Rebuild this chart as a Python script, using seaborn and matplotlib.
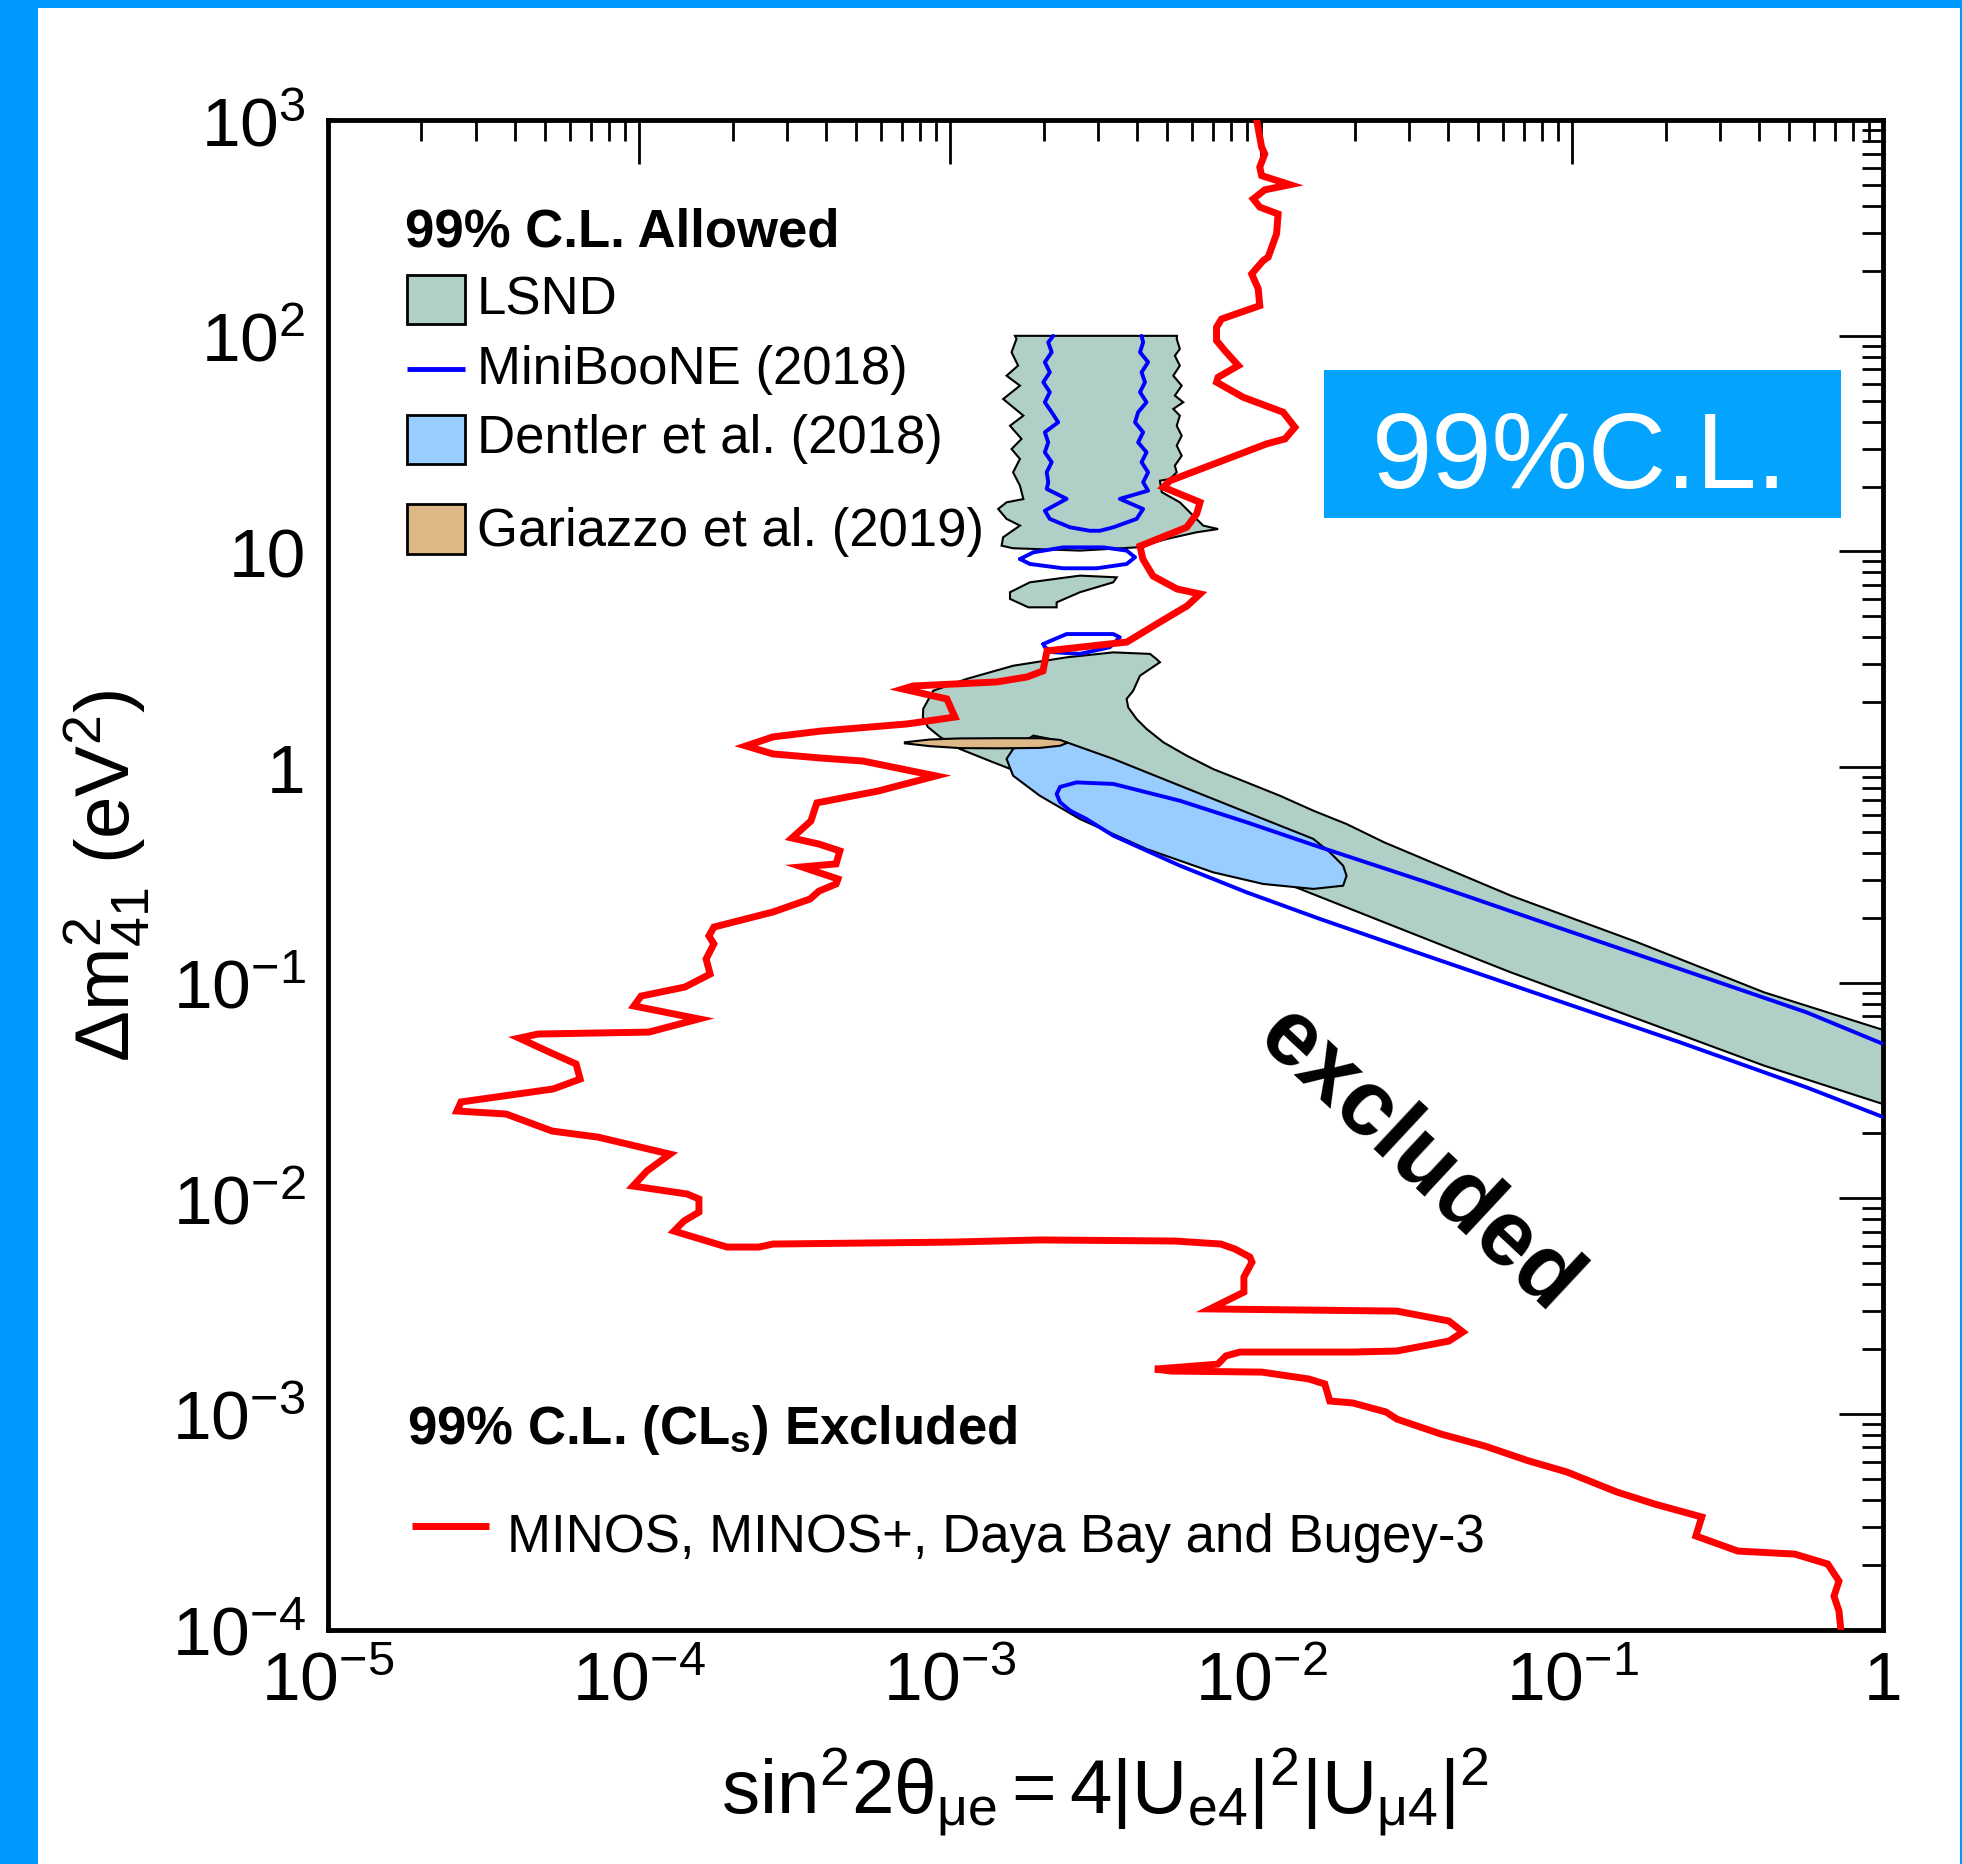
import numpy as np
import matplotlib
matplotlib.use("Agg")
import matplotlib.pyplot as plt
import seaborn as sns
from matplotlib.patches import Rectangle
from matplotlib.ticker import FixedLocator, FixedFormatter, LogLocator, NullFormatter

# ---------------------------------------------------------------------------
# Contours, stored as log10(sin^2 2theta_mue) and log10(dm^2_41 / eV^2)
# ---------------------------------------------------------------------------

# MINOS, MINOS+, Daya Bay and Bugey-3 : 99% C.L. (CLs) exclusion
minos_log_s2t = [-2.014, -1.998, -1.988, -2.004, -1.998, -1.907, -1.988, -2.025, -2.004, -1.945,
                 -1.950, -1.977, -1.993, -2.030, -2.009, -2.004, -2.127, -2.143, -2.143, -2.116,
                 -2.073, -2.138, -2.143, -2.057, -1.929, -1.891, -1.923, -1.982, -2.293, -2.314,
                 -2.196, -2.207, -2.239, -2.389, -2.380, -2.347, -2.270, -2.196, -2.238, -2.335,
                 -2.399, -2.431, -2.688, -2.701, -2.752, -2.849, -3.119, -3.151, -3.010, -2.984,
                 -3.138, -3.415, -3.569, -3.656, -3.569, -3.415, -3.280, -3.045, -3.231, -3.428,
                 -3.447, -3.508, -3.421, -3.354, -3.366, -3.476, -3.360, -3.366, -3.421, -3.450,
                 -3.569, -3.759, -3.775, -3.759, -3.784, -3.771, -3.852, -3.993, -4.016, -3.807,
                 -3.968, -4.324, -4.385, -4.289, -4.202, -4.189, -4.276, -4.572, -4.585, -4.427,
                 -4.279, -4.132, -3.900, -3.974, -4.019, -3.845, -3.807, -3.807, -3.855, -3.887,
                 -3.717, -3.614, -3.569, -2.997, -2.711, -2.277, -2.129, -2.084, -2.036, -2.029,
                 -2.055, -2.055, -2.164, -1.563, -1.396, -1.351, -1.396, -1.563, -1.705, -2.068,
                 -2.113, -2.139, -2.341, -2.290, -1.997, -1.846, -1.795, -1.779, -1.705, -1.598,
                 -1.563, -1.422, -1.280, -1.139, -1.017, -0.856, -0.734, -0.583, -0.602, -0.467,
                 -0.284, -0.178, -0.142, -0.158, -0.142, -0.136]
minos_log_dm2 = [3.0, 2.875, 2.844, 2.782, 2.743, 2.701, 2.677, 2.635, 2.597, 2.565,
                 2.473, 2.365, 2.349, 2.287, 2.218, 2.140, 2.078, 2.040, 1.978, 1.931,
                 1.862, 1.808, 1.785, 1.715, 1.646, 1.576, 1.522, 1.499, 1.328, 1.298,
                 1.228, 1.174, 1.112, 1.025, 0.965, 0.886, 0.826, 0.803, 0.747, 0.664,
                 0.608, 0.580, 0.539, 0.446, 0.418, 0.395, 0.376, 0.362, 0.316, 0.232,
                 0.200, 0.167, 0.140, 0.098, 0.061, 0.042, 0.028, -0.041, -0.111, -0.166,
                 -0.250, -0.329, -0.357, -0.389, -0.449, -0.463, -0.519, -0.542, -0.575, -0.612,
                 -0.672, -0.742, -0.783, -0.820, -0.890, -0.960, -1.020, -1.062, -1.108, -1.168,
                 -1.229, -1.238, -1.257, -1.321, -1.377, -1.447, -1.493, -1.553, -1.595, -1.609,
                 -1.688, -1.716, -1.795, -1.873, -1.943, -1.980, -2.003, -2.064, -2.105, -2.152,
                 -2.226, -2.226, -2.212, -2.203, -2.193, -2.198, -2.212, -2.235, -2.272, -2.296,
                 -2.365, -2.435, -2.513, -2.523, -2.569, -2.620, -2.662, -2.708, -2.713, -2.713,
                 -2.731, -2.769, -2.792, -2.801, -2.806, -2.838, -2.861, -2.940, -2.949, -2.991,
                 -3.024, -3.093, -3.149, -3.218, -3.269, -3.362, -3.418, -3.478, -3.566, -3.636,
                 -3.650, -3.696, -3.775, -3.845, -3.914, -4.0]

# LSND allowed region: high-dm2 island
lsnd_high_log_s2t = [-2.791, -2.270, -2.271, -2.261, -2.277, -2.261, -2.282, -2.255, -2.277, -2.250,
                     -2.282, -2.261, -2.271, -2.255, -2.271, -2.255, -2.277, -2.271, -2.293, -2.325,
                     -2.319, -2.261, -2.218, -2.186, -2.138, -2.207, -2.303, -2.400, -2.582, -2.798,
                     -2.834, -2.829, -2.775, -2.818, -2.845, -2.818, -2.764, -2.775, -2.797, -2.775,
                     -2.802, -2.770, -2.807, -2.764, -2.829, -2.775, -2.818, -2.781, -2.802, -2.786]
lsnd_high_log_dm2 = [2.0, 2.0, 1.986, 1.939, 1.908, 1.862, 1.815, 1.769, 1.723, 1.692,
                     1.661, 1.630, 1.583, 1.537, 1.491, 1.444, 1.398, 1.367, 1.336, 1.328,
                     1.275, 1.228, 1.166, 1.120, 1.104, 1.089, 1.058, 1.019, 1.004, 1.015,
                     1.027, 1.066, 1.120, 1.151, 1.197, 1.228, 1.243, 1.305, 1.367, 1.429,
                     1.475, 1.522, 1.583, 1.630, 1.707, 1.769, 1.815, 1.862, 1.924, 1.986]

# LSND allowed region: small island near 6-7 eV^2
lsnd_mid_log_s2t = [-2.807, -2.743, -2.582, -2.464, -2.475, -2.582, -2.657, -2.657, -2.748, -2.807]
lsnd_mid_log_dm2 = [0.811, 0.857, 0.888, 0.880, 0.857, 0.811, 0.764, 0.741, 0.741, 0.780]

# LSND allowed region: main diagonal band
lsnd_band_log_s2t = [-3.086, -3.054, -2.946, -2.797, -2.625, -2.475, -2.357, -2.336, -2.325, -2.389,
                     -2.411, -2.432, -2.427, -2.400, -2.368, -2.314, -2.239, -2.154, -2.046, -1.939,
                     -1.832, -1.725, -1.604, -1.197, -0.789, -0.382, 0.0,
                     0.0, -0.382, -0.789, -1.197, -1.604, -1.875, -1.994, -2.155, -2.367, -2.582,
                     -2.711, -2.798, -2.871, -2.968, -3.032, -3.071, -3.087]
lsnd_band_log_dm2 = [0.270, 0.354, 0.409, 0.470, 0.509, 0.532, 0.525, 0.501, 0.486, 0.424,
                     0.354, 0.316, 0.277, 0.223, 0.177, 0.115, 0.053, -0.009, -0.071, -0.133,
                     -0.202, -0.264, -0.349, -0.596, -0.813, -1.045, -1.219,
                     -1.563, -1.385, -1.168, -0.952, -0.720, -0.565, -0.496, -0.403, -0.278, -0.148,
                     -0.064, -0.013, 0.028, 0.084, 0.140, 0.186, 0.232]

# Dentler et al. (2018) global-fit region
dentler_log_s2t = [-2.818, -2.797, -2.732, -2.625, -2.475, -2.261, -2.046, -1.832, -1.779, -1.736,
                   -1.725, -1.736, -1.832, -1.993, -2.154, -2.368, -2.582, -2.711, -2.797]
dentler_log_dm2 = [0.038, 0.084, 0.146, 0.115, 0.038, -0.086, -0.210, -0.333, -0.395, -0.457,
                   -0.504, -0.550, -0.565, -0.542, -0.488, -0.380, -0.241, -0.133, -0.040]

# Gariazzo et al. (2019) global-fit region
gariazzo_log_s2t = [-3.145, -3.064, -2.968, -2.839, -2.711, -2.646, -2.622, -2.646, -2.711, -2.839,
                    -2.968, -3.064, -3.145]
gariazzo_log_dm2 = [0.115, 0.128, 0.133, 0.134, 0.134, 0.126, 0.113, 0.099, 0.089, 0.087,
                    0.088, 0.097, 0.110]

# MiniBooNE (2018) contours
mb_band_log_s2t = [0.0, -0.247, -0.654, -1.061, -1.468, -1.832, -2.046, -2.261, -2.475, -2.593,
                   -2.646, -2.657, -2.646, -2.614, -2.561, -2.475, -2.261, -2.046, -1.811, -1.468,
                   -1.061, -0.654, -0.247, 0.0]
mb_band_log_dm2 = [-1.284, -1.137, -0.936, -0.736, -0.534, -0.361, -0.256, -0.156, -0.078, -0.071,
                   -0.092, -0.125, -0.163, -0.202, -0.241, -0.318, -0.457, -0.581, -0.704, -0.875,
                   -1.076, -1.276, -1.485, -1.623]

mb_high_log_s2t = [-2.668, -2.684, -2.673, -2.695, -2.679, -2.700, -2.679, -2.695, -2.673, -2.652,
                   -2.695, -2.684, -2.695, -2.673, -2.689, -2.684, -2.689, -2.625, -2.695, -2.679,
                   -2.614, -2.550, -2.518, -2.475, -2.400, -2.379, -2.454, -2.363, -2.379, -2.363,
                   -2.384, -2.368, -2.395, -2.379, -2.405, -2.395, -2.368, -2.389, -2.373, -2.384,
                   -2.363, -2.389, -2.379, -2.384]
mb_high_log_dm2 = [2.0, 1.970, 1.924, 1.878, 1.831, 1.785, 1.739, 1.692, 1.646, 1.599,
                   1.553, 1.506, 1.460, 1.414, 1.367, 1.321, 1.290, 1.244, 1.189, 1.151,
                   1.112, 1.096, 1.096, 1.112, 1.151, 1.197, 1.244, 1.282, 1.321, 1.367,
                   1.414, 1.460, 1.506, 1.553, 1.599, 1.646, 1.692, 1.739, 1.785, 1.831,
                   1.878, 1.924, 1.970, 2.0]

mb_ring10_log_s2t = [-2.775, -2.732, -2.636, -2.507, -2.432, -2.405, -2.432, -2.528, -2.636, -2.743, -2.775]
mb_ring10_log_dm2 = [0.965, 0.996, 1.019, 1.019, 1.004, 0.973, 0.942, 0.922, 0.922, 0.942, 0.965]

mb_ring3_log_s2t = [-2.700, -2.625, -2.475, -2.454, -2.486, -2.582, -2.668, -2.695, -2.700]
mb_ring3_log_dm2 = [0.571, 0.617, 0.617, 0.602, 0.556, 0.525, 0.533, 0.556, 0.571]

# Axis ticks
x_major = [1e-5, 1e-4, 1e-3, 1e-2, 1e-1, 1.0]
x_labels = [r"$10^{-5}$", r"$10^{-4}$", r"$10^{-3}$", r"$10^{-2}$", r"$10^{-1}$", "1"]
y_major = [1e-4, 1e-3, 1e-2, 1e-1, 1.0, 10.0, 1e2, 1e3]
y_labels = [r"$10^{-4}$", r"$10^{-3}$", r"$10^{-2}$", r"$10^{-1}$", "1", "10", r"$10^{2}$", r"$10^{3}$"]

# Colours
LSND_C = "#B0CFC7"
DENTLER_C = "#99CCFF"
GARIAZZO_C = "#DEB887"
MB_C = "#0000FF"
MINOS_C = "#FF0000"
FRAME_C = "#0099FF"
BOX_C = "#03A3FE"

# ---------------------------------------------------------------------------
sns.set_theme(style="white")
plt.rcParams["font.family"] = ["Liberation Sans", "DejaVu Sans"]
plt.rcParams["mathtext.fontset"] = "custom"
plt.rcParams["mathtext.rm"] = "Liberation Sans"
plt.rcParams["mathtext.it"] = "Liberation Sans:italic"
plt.rcParams["mathtext.bf"] = "Liberation Sans:bold"
plt.rcParams["mathtext.default"] = "rm"
for key in ("text.color", "axes.labelcolor", "xtick.color", "ytick.color", "axes.edgecolor"):
    plt.rcParams[key] = "black"


def lin(a):
    return 10.0 ** np.asarray(a, dtype=float)


fig = plt.figure(figsize=(19.62, 18.65), dpi=100)
fig.patch.set_facecolor(FRAME_C)
fig.add_artist(Rectangle((38 / 1962, 0), (1960 - 38) / 1962, 1 - 9 / 1865,
                         transform=fig.transFigure, facecolor="white",
                         edgecolor="none", zorder=-10))

ax = fig.add_axes([0.1671, 0.1257, 0.7927, 0.8093])
ax.set_xscale("log")
ax.set_yscale("log")
ax.set_xlim(1e-5, 1.0)
ax.set_ylim(1e-4, 1e3)
ax.set_facecolor("white")

# Allowed regions
for xs, ys in ((lsnd_high_log_s2t, lsnd_high_log_dm2),
               (lsnd_mid_log_s2t, lsnd_mid_log_dm2),
               (lsnd_band_log_s2t, lsnd_band_log_dm2)):
    ax.fill(lin(xs), lin(ys), facecolor=LSND_C, edgecolor="black", linewidth=1.5, zorder=2)
ax.fill(lin(dentler_log_s2t), lin(dentler_log_dm2), facecolor=DENTLER_C,
        edgecolor="black", linewidth=1.5, zorder=2.5)
ax.fill(lin(gariazzo_log_s2t), lin(gariazzo_log_dm2), facecolor=GARIAZZO_C,
        edgecolor="black", linewidth=1.5, zorder=3)

# MiniBooNE contours
for xs, ys in ((mb_band_log_s2t, mb_band_log_dm2),
               (mb_high_log_s2t, mb_high_log_dm2),
               (mb_ring10_log_s2t, mb_ring10_log_dm2),
               (mb_ring3_log_s2t, mb_ring3_log_dm2)):
    sns.lineplot(x=lin(xs), y=lin(ys), sort=False, estimator=None, color=MB_C,
                 linewidth=2.8, ax=ax, zorder=4)

# Exclusion contour
sns.lineplot(x=lin(minos_log_s2t), y=lin(minos_log_dm2), sort=False, estimator=None,
             color=MINOS_C, linewidth=5, ax=ax, zorder=5, solid_joinstyle="miter")

# Axes styling
ax.xaxis.set_major_locator(FixedLocator(x_major))
ax.xaxis.set_major_formatter(FixedFormatter(x_labels))
ax.yaxis.set_major_locator(FixedLocator(y_major))
ax.yaxis.set_major_formatter(FixedFormatter(y_labels))
for axis in (ax.xaxis, ax.yaxis):
    axis.set_minor_locator(LogLocator(base=10, subs=np.arange(2, 10), numticks=50))
    axis.set_minor_formatter(NullFormatter())
ax.tick_params(which="both", direction="in", top=True, right=True, color="black", width=2.0)
ax.tick_params(which="major", length=31.5, labelsize=50)
ax.tick_params(which="minor", length=15)
ax.tick_params(axis="x", which="major", pad=14)
ax.tick_params(axis="y", which="major", pad=16)
for sp in ax.spines.values():
    sp.set_linewidth(3.5)
    sp.set_color("black")

ax.set_xlabel(r"$\mathrm{sin}^{2}2\theta_{\mu e} = 4|U_{e4}|^{2}|U_{\mu 4}|^{2}$", fontsize=55)
ax.xaxis.set_label_coords(0.5, -0.077)
ax.set_ylabel(r"$\Delta m^{2}_{41}\ (eV^{2})$", fontsize=55)
ax.yaxis.set_label_coords(-0.113, 0.5)

# Annotations
ax.text(0.701, 0.311, "excluded", rotation=-43, rotation_mode="anchor", ha="center",
        va="center", fontsize=67, fontweight="bold", transform=ax.transAxes, zorder=6)
ax.add_patch(Rectangle((0.6405, 0.7365), 0.3324, 0.0981, transform=ax.transAxes,
                       facecolor=BOX_C, edgecolor="none", zorder=6))
ax.text(0.8047, 0.7572, "99%C.L.", color="white", fontsize=78, ha="center", va="baseline",
        transform=ax.transAxes, zorder=7)

# Legend (allowed)
leg_fs = 38
ax.text(0.0497, 0.917, "99% C.L. Allowed", fontsize=leg_fs, fontweight="bold",
        va="baseline", transform=ax.transAxes)
box_x, box_w = 0.0507, 0.0375
txt_x = 0.0957
ax.add_patch(Rectangle((box_x, 0.865), box_w, 0.0325, transform=ax.transAxes,
                       facecolor=LSND_C, edgecolor="black", linewidth=2, zorder=6))
ax.text(txt_x, 0.8717, "LSND", fontsize=leg_fs, va="baseline", transform=ax.transAxes)
ax.plot([box_x, box_x + box_w], [0.835, 0.835], color=MB_C, linewidth=3.5,
        transform=ax.transAxes, solid_capstyle="butt")
ax.text(txt_x, 0.8259, "MiniBooNE (2018)", fontsize=leg_fs, va="baseline", transform=ax.transAxes)
ax.add_patch(Rectangle((box_x, 0.7723), box_w, 0.0324, transform=ax.transAxes,
                       facecolor=DENTLER_C, edgecolor="black", linewidth=2, zorder=6))
ax.text(txt_x, 0.7802, "Dentler et al. (2018)", fontsize=leg_fs, va="baseline",
        transform=ax.transAxes)
ax.add_patch(Rectangle((box_x, 0.7126), box_w, 0.0331, transform=ax.transAxes,
                       facecolor=GARIAZZO_C, edgecolor="black", linewidth=2, zorder=6))
ax.text(txt_x, 0.7189, "Gariazzo et al. (2019)", fontsize=leg_fs, va="baseline",
        transform=ax.transAxes)

# Legend (excluded)
ax.text(0.0509, 0.1236, r"99% C.L. (CL$_{\mathbf{s}}$) Excluded", fontsize=leg_fs,
        fontweight="bold", va="baseline", transform=ax.transAxes)
ax.plot([0.0541, 0.1036], [0.0686, 0.0686], color=MINOS_C, linewidth=5,
        transform=ax.transAxes, solid_capstyle="butt")
ax.text(0.1152, 0.0520, "MINOS, MINOS+, Daya Bay and Bugey-3", fontsize=leg_fs,
        va="baseline", transform=ax.transAxes)

fig.savefig("out.png", dpi=100, facecolor=fig.get_facecolor())
